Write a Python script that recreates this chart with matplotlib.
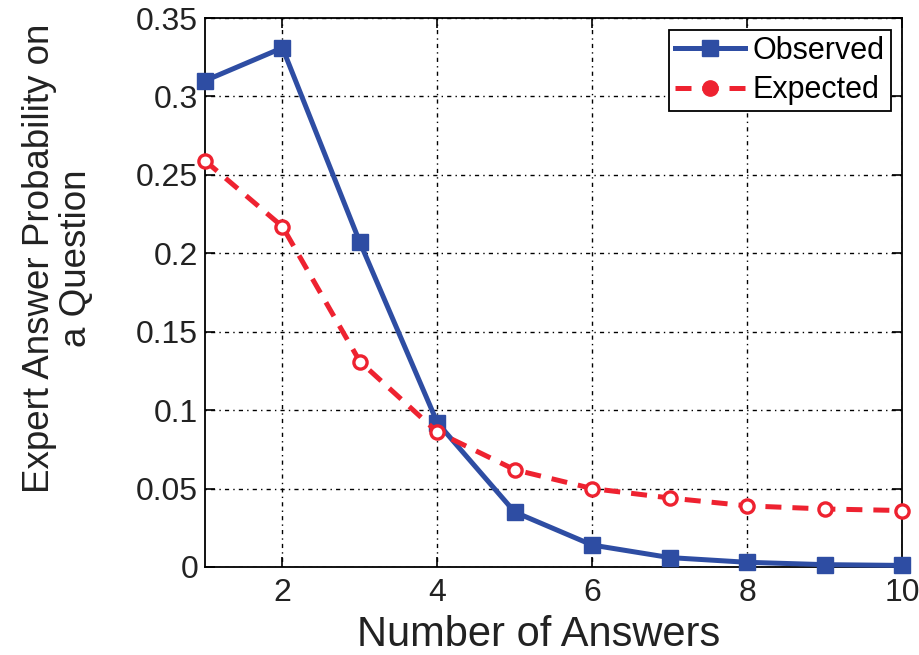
import matplotlib
matplotlib.use('Agg')
import matplotlib.pyplot as plt
from matplotlib.lines import Line2D

plt.rcParams['font.family'] = ['Liberation Sans', 'DejaVu Sans']

# number of answers on a question
n_answers = [1, 2, 3, 4, 5, 6, 7, 8, 9, 10]
observed = [0.310, 0.331, 0.207, 0.092, 0.035, 0.014, 0.006, 0.003, 0.0015, 0.001]
expected = [0.259, 0.217, 0.131, 0.086, 0.062, 0.050, 0.044, 0.039, 0.037, 0.036]

blue = '#2E4DA3'
red = '#EE2230'
dash = (0, (3.2, 2.2))

fig = plt.figure(figsize=(9.19, 6.55), dpi=100)
ax = fig.add_axes([205 / 919, 88 / 655, 697 / 919, 549 / 655])

ax.plot(n_answers, observed, color=blue, lw=3.6, marker='s', ms=11,
        mfc=blue, mec=blue, zorder=3, clip_on=False)
ax.plot(n_answers, expected, color=red, lw=3.6, ls=dash, marker='o', ms=9.5,
        mfc='white', mec=red, mew=2.4, zorder=3, clip_on=False)

ax.set_xlim(1, 10)
ax.set_ylim(0, 0.35)
ax.set_xticks([2, 4, 6, 8, 10])
ax.set_yticks([0, 0.05, 0.1, 0.15, 0.2, 0.25, 0.3, 0.35])
ax.set_yticklabels(['0', '0.05', '0.1', '0.15', '0.2', '0.25', '0.3', '0.35'])
ax.tick_params(direction='in', length=7, width=1.2, labelsize=23, top=True, right=True,
               colors='black', labelcolor='#222222')
ax.tick_params(axis='y', pad=5)
ax.tick_params(axis='x', pad=8)
ax.grid(True, color='black', lw=1.0, ls=(0, (1, 3, 3, 3)))
for s in ax.spines.values():
    s.set_linewidth(1.3)

fig.text(539 / 919, 1 - 646 / 655, 'Number of Answers', fontsize=30, ha='center',
         va='baseline', color='#222222')
fig.text(58 / 919, 1 - 258 / 655, 'Expert Answer Probability on\na Question', fontsize=26.5,
         ha='center', va='center', rotation=90, linespacing=1.05, color='#222222')

handles = [
    Line2D([], [], color=blue, lw=3.6, marker='s', ms=11),
    Line2D([], [], color=red, lw=3.6, ls=dash, marker='o', ms=11),
]
ax.legend(handles, ['Observed', 'Expected'], loc='upper right',
          bbox_to_anchor=((891 - 205) / 697, (567 - 30) / 549),
          fontsize=22, frameon=True, fancybox=False, edgecolor='black', framealpha=1,
          handlelength=2.3, handletextpad=0.25, borderpad=0.2, labelspacing=0.3,
          borderaxespad=0).get_frame().set_linewidth(1.3)

fig.savefig('out.png', dpi=100)
